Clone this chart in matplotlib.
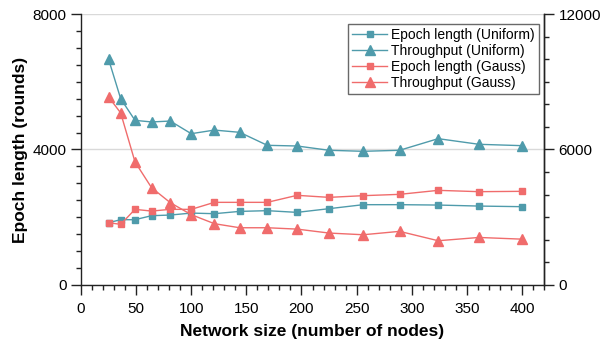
import matplotlib
matplotlib.use("Agg")
import matplotlib.pyplot as plt
from matplotlib.ticker import MultipleLocator

plt.rcParams['font.family'] = ['Liberation Sans', 'DejaVu Sans']

nodes = [25, 36, 49, 64, 81, 100, 121, 144, 169, 196, 225, 256, 289, 324, 361, 400]
epoch_uniform = [1840, 1928, 1928, 2046, 2065, 2123, 2105, 2173, 2194, 2144, 2253, 2371, 2371, 2360, 2330, 2312]
thr_uniform = [10000, 8250, 7290, 7220, 7260, 6700, 6860, 6760, 6185, 6155, 5965, 5920, 5965, 6480, 6230, 6170]
epoch_gauss = [1840, 1790, 2233, 2182, 2233, 2233, 2440, 2440, 2440, 2647, 2587, 2637, 2676, 2794, 2755, 2765]
thr_gauss = [8330, 7620, 5450, 4310, 3645, 3115, 2715, 2535, 2535, 2475, 2300, 2225, 2375, 1960, 2105, 2030]

c_uni = '#4f9bab'
c_gau = '#f06c6c'

fig = plt.figure(figsize=(6.03, 3.39), dpi=100)
ax = fig.add_axes([0.1343, 0.1593, 0.9022 - 0.1343, 0.9587 - 0.1593])
ax2 = ax.twinx()

l1, = ax.plot(nodes, epoch_uniform, '-s', color=c_uni, lw=1, ms=5, label='Epoch length (Uniform)')
l2, = ax2.plot(nodes, thr_uniform, '-^', color=c_uni, lw=1, ms=7, label='Throughput (Uniform)')
l3, = ax.plot(nodes, epoch_gauss, '-s', color=c_gau, lw=1, ms=5, label='Epoch length (Gauss)')
l4, = ax2.plot(nodes, thr_gauss, '-^', color=c_gau, lw=1, ms=7, label='Throughput (Gauss)')

ax.set_xlim(0, 420)
ax.set_ylim(0, 8000)
ax2.set_ylim(0, 12000)
ax.set_yticks([0, 4000, 8000])
ax.yaxis.set_minor_locator(MultipleLocator(500))
ax2.set_yticks([0, 6000, 12000])
ax2.yaxis.set_minor_locator(MultipleLocator(1000))
ax.set_xticks(range(0, 401, 50))
ax.xaxis.set_minor_locator(MultipleLocator(10))

ax.grid(axis='y', which='major', color='#d9d9d9', lw=1)
ax.set_axisbelow(True)

for a in (ax, ax2):
    a.spines['top'].set_visible(False)
    for s in a.spines.values():
        s.set_color('#222222')
        s.set_linewidth(1)
    a.tick_params(which='major', length=7, width=1, labelsize=11, color='#222222')
    a.tick_params(which='minor', length=3.5, width=1, color='#222222')
ax.tick_params(axis='x', which='major', pad=5)
ax2.spines['left'].set_visible(False)
ax2.spines['bottom'].set_visible(False)

ax.set_xlabel('Network size (number of nodes)', fontsize=12.5, fontweight='bold', labelpad=6)
ax.set_ylabel('Epoch length (rounds)', fontsize=12.5, fontweight='bold', labelpad=3)

leg = ax2.legend(handles=[l1, l2, l3, l4], loc='upper right', bbox_to_anchor=(0.995, 0.975),
                 fontsize=10, frameon=True, fancybox=False, handlelength=2.5,
                 handletextpad=0.3, labelspacing=0.15, borderpad=0.3, borderaxespad=0.2)
leg.get_frame().set_edgecolor('#444444')
leg.get_frame().set_linewidth(1)

fig.savefig('out.png', dpi=100)
